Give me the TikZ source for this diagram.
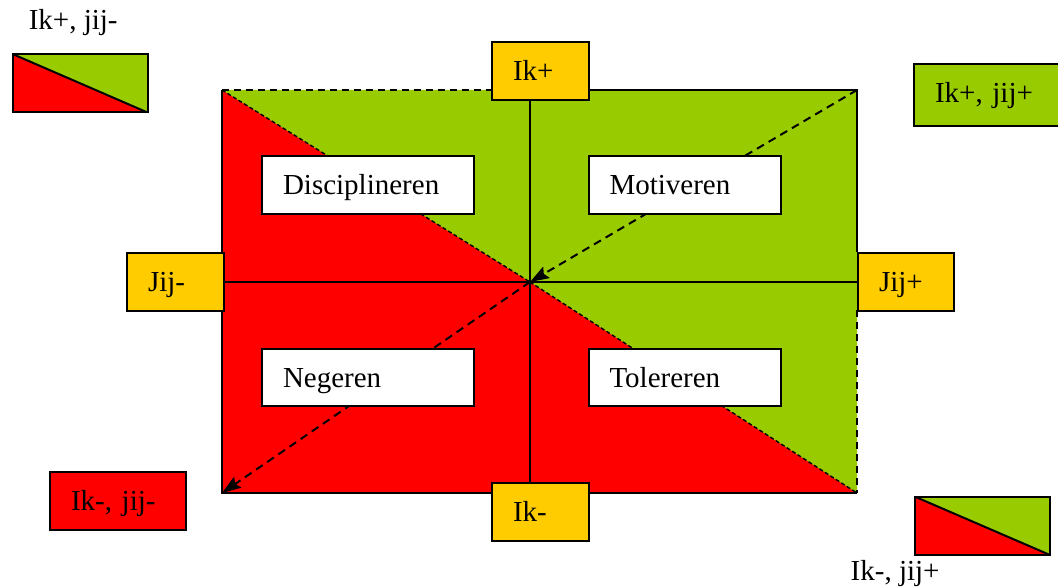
\documentclass[tikz,border=0pt]{standalone}
\usepackage{fontspec}
\setmainfont{Liberation Serif}
\usetikzlibrary{arrows.meta}
\definecolor{cred}{HTML}{FF0000}
\definecolor{cgreen}{HTML}{99CC00}
\definecolor{cyellow}{HTML}{FFCC00}
\begin{document}
\begin{tikzpicture}[x=1pt,y=-1pt,
  font=\fontsize{29}{34}\selectfont,
  frame/.style={draw=black, line width=2pt, inner sep=0pt, inner xsep=21pt,
    align=left, anchor=north west, text height=38.5pt, text depth=19.5pt},
  legend/.style={draw=black, line width=2pt, inner sep=0pt, anchor=north west,
    minimum width=135pt, minimum height=58.5pt,
    path picture={
      \fill[cgreen] (path picture bounding box.north west) -- (path picture bounding box.north east) -- (path picture bounding box.south east) -- cycle;
      \fill[cred] (path picture bounding box.north west) -- (path picture bounding box.south west) -- (path picture bounding box.south east) -- cycle;
      \draw[line width=2pt] (path picture bounding box.north west) -- (path picture bounding box.south east);
    }},
  plain/.style={anchor=base west, inner sep=0pt},
  border/.style={line width=1.8pt},
  dashborder/.style={line width=1.8pt, dash pattern=on 7pt off 5pt},
  diag/.style={line width=1.4pt, dash pattern=on 4pt off 2.5pt},
  dasharrow/.style={line width=2pt, dash pattern=on 8pt off 5.5pt,
    -{Stealth[length=19pt,width=13pt,inset=3pt]}},
  axis/.style={line width=1.9pt}]
\useasboundingbox (0,0) rectangle (1058,588);
\clip (0,0) rectangle (1058,588);
\fill[white] (0,0) rectangle (1058,588);

% main field
\coordinate (TL) at (222,90);
\coordinate (TR) at (857,90);
\coordinate (BL) at (222,493);
\coordinate (BR) at (857,493);
\coordinate (C) at (530,282);
\fill[cred] (TL) rectangle (BR);
\fill[cgreen] (TL) -- (TR) -- (BR) -- (C) -- cycle;

% diagonals
\draw[diag] (TL) -- (C);
\draw[diag] (C) -- (BR);

% box corners needed for borders
\path (491,41) coordinate (ikpNW) (588,41) coordinate (ikpNE);

% borders
\draw[border] (TL) -- (BL) -- (BR);
\draw[dashborder] (TL) -- (TL -| ikpNW);
\draw[border] (TR -| ikpNE) -- (TR) -- (857,252);
\draw[dashborder] (857,310) -- (BR);

% axes
\draw[axis] (222,282) -- (C);
\draw[line width=1.4pt] (C) -- (857,282);
\draw[axis] (530,99) -- (530,482);

% dashed arrows
\draw[dasharrow] (TR) -- (C);
\draw[dasharrow] (C) -- (BL);

% axis labels
\node[frame, fill=cyellow, text width=55pt] (ikp) at (491,41) {Ik+};
\node[frame, fill=cyellow, text width=54.5pt] (jijm) at (126,252) {Jij-};
\node[frame, fill=cyellow, text width=54pt] (jijp) at (857,252) {Jij+};
\node[frame, fill=cyellow, text width=55pt] (ikm) at (491,482) {Ik-};

% quadrant labels
\node[frame, fill=white, text width=169.5pt, text depth=19.2pt] (disc) at (261,155) {Disciplineren};
\node[frame, fill=white, text width=150.5pt, text depth=19.2pt] (moti) at (587.5,155) {Motiveren};
\node[frame, fill=white, text width=169.5pt, text depth=19pt] (neg) at (261,347.5) {Negeren};
\node[frame, fill=white, text width=150.5pt, text depth=19pt] (tol) at (587.5,347.5) {Tolereren};

% corner legends
\node[frame, fill=cgreen, text width=110pt, text depth=23.5pt] (ikpjp) at (913,63) {Ik+, jij+};
\node[frame, fill=cred, text width=93.6pt] (ikmjm) at (49,471) {Ik-, jij-};

\node[legend] (legtl) at (11.5,53) {};
\node[plain] (labtl) at (28.6,30) {Ik+, jij-};
\node[legend, minimum height=58.3pt] (legbr) at (914,495.7) {};
\node[plain] (labbr) at (850.5,580) {Ik-, jij+};
\end{tikzpicture}
\end{document}
